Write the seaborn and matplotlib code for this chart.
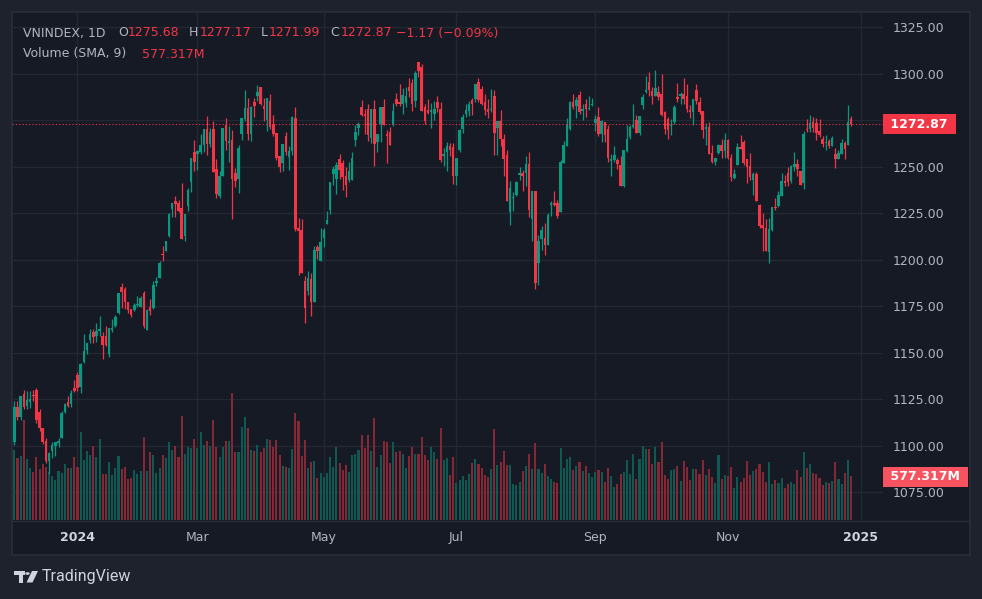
import matplotlib
matplotlib.use('Agg')
import numpy as np
import matplotlib.pyplot as plt
import matplotlib.transforms as mtransforms
from matplotlib.patches import Rectangle, Circle, Polygon
import seaborn as sns

# Daily VNINDEX candles, Dec 2023 - Dec 2024
opens = [
    1101.9, 1120.9, 1115.4, 1127.7, 1121.2, 1123.5, 1127.5, 1130.2, 1118.0, 1109.3,
    1102.3, 1091.6, 1097.0, 1100.0, 1101.7, 1104.1, 1118.4, 1123.4, 1122.7, 1131.3,
    1137.8, 1131.7, 1145.0, 1151.2, 1156.7, 1161.3, 1158.8, 1161.8, 1159.1, 1158.8,
    1149.5, 1162.3, 1164.2, 1171.2, 1185.5, 1184.1, 1177.5, 1173.4, 1172.8, 1175.4,
    1174.8, 1181.9, 1162.4, 1174.3, 1173.9, 1187.5, 1190.4, 1203.2, 1204.8, 1212.9,
    1227.5, 1231.3, 1230.7, 1227.9, 1212.9, 1228.8, 1241.7, 1257.6, 1256.7, 1258.1,
    1261.5, 1270.2, 1262.1, 1270.2, 1248.6, 1234.0, 1245.0, 1272.3, 1262.6, 1264.4,
    1246.4, 1243.2, 1267.5, 1275.6, 1281.5, 1267.5, 1284.7, 1288.0, 1292.7, 1282.8,
    1275.0, 1285.5, 1272.9, 1268.0, 1255.8, 1252.2, 1266.2, 1255.2, 1258.5, 1276.4,
    1217.2, 1215.7, 1188.6, 1183.2, 1189.7, 1177.1, 1206.7, 1199.1, 1211.4, 1219.0,
    1226.5, 1246.0, 1243.3, 1254.0, 1252.2, 1245.0, 1242.8, 1242.8, 1264.4, 1270.6,
    1281.8, 1278.5, 1280.9, 1265.5, 1281.2, 1263.0, 1272.7, 1281.8, 1267.7, 1268.6,
    1272.2, 1286.1, 1284.8, 1283.9, 1284.3, 1293.0, 1295.1, 1285.2, 1306.0, 1303.4,
    1282.1, 1280.3, 1279.3, 1278.5, 1284.8, 1281.2, 1255.9, 1258.1, 1261.0, 1260.5,
    1245.1, 1258.7, 1270.0, 1278.5, 1279.8, 1285.9, 1286.3, 1295.7, 1291.5, 1284.8,
    1281.2, 1280.3, 1287.9, 1270.8, 1274.7, 1265.0, 1256.3, 1225.6, 1233.4, 1234.7,
    1245.5, 1246.4, 1246.4, 1251.4, 1221.7, 1236.8, 1198.3, 1210.9, 1211.7, 1207.8,
    1229.2, 1230.3, 1230.3, 1225.6, 1252.0, 1261.0, 1270.4, 1284.5, 1282.7, 1288.4,
    1279.8, 1283.9, 1280.9, 1283.0, 1273.6, 1276.7, 1267.7, 1274.0, 1270.4, 1253.1,
    1253.3, 1253.8, 1250.9, 1239.4, 1258.5, 1265.9, 1271.3, 1275.3, 1268.2, 1283.0,
    1289.9, 1295.3, 1290.6, 1288.1, 1289.9, 1288.8, 1279.1, 1275.8, 1271.9, 1274.0,
    1287.3, 1288.1, 1289.2, 1288.1, 1280.3, 1279.4, 1291.2, 1284.5, 1280.1, 1270.4,
    1271.3, 1257.4, 1252.5, 1257.2, 1261.5, 1258.4, 1264.2, 1254.8, 1244.1, 1250.7,
    1260.8, 1263.3, 1253.9, 1250.4, 1242.8, 1245.9, 1229.2, 1218.5, 1217.2, 1204.2,
    1216.0, 1228.5, 1228.9, 1234.2, 1242.3, 1246.4, 1242.3, 1250.0, 1251.3, 1247.7,
    1241.0, 1270.4, 1270.4, 1274.0, 1273.7, 1269.2, 1265.0, 1262.8, 1263.8, 1261.1,
    1256.6, 1253.9, 1256.6, 1262.9, 1261.5, 1275.68,
]
highs = [
    1124.1, 1124.0, 1127.0, 1129.9, 1129.5, 1129.5, 1130.0, 1131.2, 1120.0, 1109.7,
    1104.0, 1096.8, 1101.9, 1102.2, 1104.2, 1118.7, 1123.2, 1126.6, 1129.9, 1135.3,
    1139.6, 1144.3, 1160.2, 1155.0, 1162.7, 1162.7, 1166.0, 1169.6, 1161.4, 1164.2,
    1163.4, 1168.3, 1170.0, 1182.0, 1187.3, 1185.2, 1177.5, 1173.4, 1176.8, 1180.7,
    1180.7, 1183.0, 1173.6, 1178.6, 1188.4, 1190.8, 1199.1, 1207.5, 1210.2, 1225.3,
    1230.2, 1234.0, 1231.8, 1241.2, 1224.6, 1238.7, 1254.5, 1264.4, 1258.8, 1267.8,
    1270.2, 1277.2, 1270.5, 1274.3, 1254.0, 1247.7, 1270.7, 1275.9, 1271.6, 1269.8,
    1249.5, 1261.5, 1276.1, 1291.2, 1286.9, 1282.8, 1286.9, 1293.9, 1292.7, 1286.9,
    1286.9, 1289.0, 1277.9, 1268.0, 1255.8, 1262.4, 1268.4, 1261.2, 1277.4, 1281.8,
    1222.2, 1221.7, 1191.0, 1194.0, 1192.8, 1207.2, 1208.1, 1216.8, 1216.8, 1226.2,
    1241.7, 1250.5, 1252.3, 1256.9, 1253.6, 1249.6, 1252.5, 1258.0, 1272.2, 1274.2,
    1285.6, 1281.0, 1283.4, 1281.0, 1285.6, 1267.7, 1281.8, 1286.1, 1269.5, 1271.3,
    1284.3, 1289.4, 1294.2, 1292.1, 1293.0, 1297.5, 1296.9, 1301.6, 1306.0, 1305.2,
    1283.6, 1286.6, 1284.3, 1285.5, 1288.1, 1284.8, 1259.9, 1263.2, 1262.8, 1262.8,
    1254.7, 1270.4, 1278.5, 1283.4, 1285.2, 1287.0, 1294.2, 1297.8, 1293.5, 1288.8,
    1286.6, 1291.5, 1291.2, 1274.7, 1280.3, 1267.7, 1259.2, 1242.2, 1236.1, 1242.2,
    1249.6, 1248.4, 1255.6, 1257.8, 1236.8, 1236.8, 1213.5, 1218.0, 1219.9, 1224.9,
    1231.6, 1237.0, 1232.1, 1253.8, 1263.9, 1276.2, 1285.2, 1288.8, 1287.5, 1290.6,
    1283.4, 1286.3, 1288.1, 1287.0, 1277.6, 1282.1, 1274.9, 1274.0, 1272.2, 1256.9,
    1261.0, 1254.5, 1255.6, 1259.2, 1272.2, 1272.6, 1283.4, 1277.6, 1277.3, 1288.8,
    1298.9, 1300.7, 1293.0, 1302.0, 1293.5, 1299.6, 1279.8, 1276.7, 1275.8, 1283.0,
    1294.8, 1289.9, 1297.8, 1294.2, 1283.0, 1286.3, 1294.2, 1287.5, 1280.1, 1273.6,
    1274.0, 1261.7, 1254.8, 1262.0, 1264.7, 1267.9, 1264.7, 1256.6, 1248.9, 1262.5,
    1266.8, 1264.3, 1254.3, 1257.2, 1247.1, 1247.1, 1229.8, 1225.3, 1221.7, 1222.6,
    1228.5, 1233.3, 1236.9, 1246.8, 1245.3, 1250.0, 1250.7, 1257.9, 1253.9, 1247.7,
    1269.2, 1275.8, 1277.6, 1276.9, 1276.3, 1275.4, 1266.5, 1266.8, 1265.0, 1266.5,
    1260.2, 1259.0, 1265.0, 1263.8, 1283.0, 1277.17,
]
lows = [
    1100.5, 1113.6, 1114.0, 1120.0, 1119.5, 1120.5, 1124.0, 1112.2, 1107.9, 1101.0,
    1091.0, 1084.8, 1093.4, 1094.5, 1099.2, 1104.0, 1117.4, 1120.9, 1120.9, 1128.7,
    1129.5, 1128.4, 1144.6, 1149.4, 1155.1, 1155.1, 1155.9, 1158.8, 1146.8, 1153.8,
    1147.8, 1160.9, 1163.8, 1171.0, 1174.1, 1173.6, 1171.4, 1169.2, 1172.3, 1174.7,
    1174.3, 1163.5, 1162.4, 1170.3, 1173.6, 1186.1, 1190.1, 1199.1, 1204.5, 1212.4,
    1222.8, 1222.8, 1225.7, 1211.3, 1210.2, 1226.4, 1236.3, 1247.7, 1248.0, 1256.7,
    1258.1, 1256.3, 1260.6, 1246.9, 1233.3, 1232.9, 1245.0, 1259.0, 1252.5, 1221.7,
    1239.0, 1235.6, 1264.2, 1274.7, 1264.2, 1263.9, 1276.8, 1285.5, 1283.3, 1274.7,
    1268.9, 1270.2, 1266.6, 1253.4, 1247.1, 1247.7, 1256.3, 1248.0, 1256.3, 1215.6,
    1191.9, 1192.6, 1166.0, 1181.0, 1169.9, 1177.1, 1200.5, 1199.1, 1206.7, 1219.0,
    1224.7, 1240.3, 1235.2, 1243.5, 1237.7, 1233.8, 1241.7, 1242.8, 1261.2, 1267.1,
    1277.1, 1267.7, 1263.7, 1262.6, 1250.5, 1257.6, 1263.4, 1272.2, 1252.2, 1261.4,
    1271.7, 1282.5, 1282.5, 1278.5, 1282.1, 1287.5, 1280.0, 1282.1, 1298.0, 1280.0,
    1273.1, 1278.5, 1270.9, 1275.0, 1279.4, 1252.7, 1250.2, 1247.8, 1255.6, 1240.6,
    1240.1, 1258.1, 1268.2, 1276.7, 1277.3, 1278.0, 1284.8, 1284.8, 1283.0, 1277.6,
    1276.2, 1279.4, 1256.3, 1256.0, 1261.0, 1245.1, 1231.6, 1218.4, 1226.2, 1234.3,
    1243.0, 1237.0, 1239.7, 1223.1, 1209.9, 1184.5, 1186.5, 1205.1, 1202.7, 1207.8,
    1223.5, 1228.9, 1222.2, 1225.6, 1252.0, 1261.0, 1269.5, 1281.2, 1276.2, 1278.5,
    1274.9, 1276.7, 1280.3, 1282.7, 1269.0, 1266.4, 1263.4, 1263.5, 1252.7, 1244.9,
    1252.7, 1248.7, 1239.4, 1238.8, 1257.8, 1265.0, 1270.8, 1268.2, 1266.8, 1281.2,
    1289.4, 1288.1, 1283.9, 1288.1, 1285.7, 1277.3, 1267.7, 1265.0, 1267.1, 1273.1,
    1284.8, 1283.9, 1283.9, 1279.4, 1276.2, 1272.2, 1283.9, 1278.5, 1265.3, 1261.5,
    1256.9, 1252.0, 1250.7, 1256.6, 1254.8, 1254.8, 1254.3, 1242.3, 1243.5, 1250.7,
    1259.3, 1250.7, 1241.0, 1242.8, 1234.6, 1231.5, 1217.2, 1204.7, 1204.7, 1198.4,
    1215.4, 1226.7, 1228.5, 1234.2, 1239.6, 1239.6, 1241.4, 1247.7, 1245.0, 1240.0,
    1238.2, 1268.6, 1268.6, 1268.6, 1264.3, 1266.1, 1260.8, 1259.0, 1260.2, 1261.1,
    1249.3, 1253.9, 1256.6, 1253.9, 1261.5, 1271.99,
]
closes = [
    1120.9, 1115.4, 1126.6, 1120.9, 1124.5, 1125.0, 1127.0, 1113.6, 1109.7, 1101.9,
    1091.6, 1096.3, 1100.5, 1102.0, 1102.8, 1117.6, 1122.3, 1121.4, 1128.6, 1129.3,
    1131.3, 1144.0, 1150.8, 1155.0, 1160.2, 1158.2, 1161.8, 1162.9, 1154.4, 1153.9,
    1163.4, 1163.4, 1169.2, 1181.9, 1182.7, 1177.2, 1172.8, 1170.3, 1175.7, 1176.1,
    1179.3, 1164.2, 1173.2, 1172.5, 1186.2, 1188.6, 1198.3, 1202.3, 1209.9, 1224.6,
    1230.2, 1230.0, 1226.4, 1211.3, 1224.3, 1237.2, 1254.5, 1252.5, 1258.5, 1261.5,
    1270.2, 1262.4, 1268.5, 1247.1, 1235.4, 1245.0, 1270.7, 1263.9, 1263.9, 1243.2,
    1242.3, 1259.9, 1276.1, 1281.5, 1267.5, 1282.2, 1282.6, 1290.0, 1283.7, 1281.1,
    1286.9, 1271.1, 1267.5, 1254.9, 1249.8, 1262.4, 1258.1, 1258.5, 1276.5, 1216.4,
    1215.3, 1192.6, 1174.2, 1190.0, 1177.1, 1205.4, 1204.5, 1209.6, 1216.2, 1221.1,
    1241.7, 1248.7, 1250.9, 1248.2, 1244.6, 1239.9, 1247.5, 1254.7, 1268.6, 1273.1,
    1277.6, 1277.4, 1266.8, 1281.0, 1262.3, 1267.7, 1281.8, 1272.2, 1266.2, 1261.4,
    1280.0, 1283.6, 1283.9, 1288.6, 1287.9, 1290.8, 1283.9, 1300.5, 1301.6, 1280.0,
    1274.4, 1278.9, 1280.3, 1281.2, 1281.6, 1253.8, 1256.8, 1261.0, 1258.7, 1245.1,
    1254.7, 1269.9, 1276.7, 1280.3, 1283.4, 1283.4, 1294.2, 1285.7, 1283.4, 1280.7,
    1279.4, 1281.2, 1268.2, 1274.7, 1264.6, 1254.2, 1231.6, 1238.3, 1233.9, 1241.9,
    1246.6, 1244.8, 1251.4, 1226.7, 1236.8, 1187.7, 1210.3, 1215.7, 1207.8, 1223.8,
    1230.3, 1229.2, 1223.5, 1252.7, 1261.7, 1272.6, 1284.5, 1282.1, 1285.6, 1279.4,
    1280.9, 1281.2, 1281.6, 1283.9, 1275.8, 1267.7, 1274.4, 1267.2, 1254.9, 1254.2,
    1256.3, 1251.4, 1239.4, 1259.2, 1265.0, 1271.3, 1272.2, 1268.2, 1277.3, 1287.5,
    1291.2, 1291.2, 1288.1, 1292.4, 1287.5, 1278.0, 1270.4, 1269.5, 1272.6, 1282.1,
    1286.6, 1288.8, 1286.3, 1280.9, 1279.1, 1286.3, 1285.2, 1279.4, 1269.5, 1271.3,
    1256.9, 1252.7, 1254.5, 1261.5, 1258.4, 1264.2, 1254.8, 1244.6, 1245.9, 1260.8,
    1259.3, 1251.8, 1250.0, 1244.6, 1245.9, 1231.5, 1218.1, 1217.2, 1204.7, 1216.7,
    1228.5, 1227.8, 1234.6, 1242.3, 1241.4, 1241.8, 1250.4, 1251.3, 1248.9, 1240.0,
    1267.4, 1269.7, 1273.7, 1271.0, 1267.9, 1266.8, 1262.0, 1263.3, 1261.1, 1265.6,
    1253.9, 1257.2, 1262.5, 1259.7, 1274.0, 1272.87,
]
# volume in millions of shares
volumes = [
    940, 831, 858, 1340, 813, 697, 643, 840, 688, 750,
    706, 643, 590, 536, 652, 625, 750, 697, 697, 840,
    715, 1179, 804, 920, 867, 992, 849, 1081, 616, 616,
    777, 599, 697, 858, 688, 706, 545, 563, 670, 616,
    661, 1108, 661, 916, 871, 634, 692, 871, 826, 1045,
    938, 996, 844, 1398, 884, 983, 960, 1085, 965, 1179,
    1005, 1059, 992, 1340, 978, 844, 978, 1059, 1059, 1702,
    911, 911, 1246, 1385, 1233, 938, 925, 1005, 911, 965,
    1085, 1072, 978, 1072, 871, 724, 710, 697, 951, 1438,
    1327, 858, 1072, 692, 782, 791, 558, 625, 576, 625,
    844, 710, 978, 764, 670, 737, 643, 871, 884, 934,
    1139, 965, 1139, 925, 1367, 710, 871, 1059, 1045, 764,
    1045, 911, 925, 884, 692, 858, 978, 884, 884, 1112,
    871, 804, 978, 911, 817, 1228, 804, 831, 603, 844,
    491, 536, 590, 536, 616, 764, 817, 750, 697, 603,
    576, 683, 1220, 737, 777, 925, 737, 737, 482, 469,
    509, 657, 724, 884, 683, 1032, 683, 630, 750, 590,
    549, 509, 496, 965, 697, 817, 844, 670, 724, 777,
    657, 724, 630, 576, 643, 670, 643, 509, 697, 590,
    442, 482, 616, 643, 804, 616, 884, 549, 817, 992,
    951, 951, 750, 978, 777, 1045, 603, 549, 670, 683,
    724, 523, 791, 710, 536, 683, 683, 616, 804, 603,
    683, 576, 500, 876, 554, 603, 594, 710, 433, 576,
    514, 567, 791, 603, 657, 688, 750, 643, 514, 777,
    482, 536, 500, 563, 433, 482, 509, 482, 670, 581,
    911, 697, 750, 634, 616, 567, 469, 509, 500, 523,
    777, 554, 482, 634, 804, 590,
]
vol_sma_last = 577.317

price_ticks = [1075, 1100, 1125, 1150, 1175, 1200, 1225, 1250, 1275, 1300, 1325]
month_pos = [20, 58, 98, 140, 184, 226, 268]
month_labels = ['2024', 'Mar', 'May', 'Jul', 'Sep', 'Nov', '2025']

OUTER = '#1e222d'
PANE = '#161a25'
BORDER = '#2a2e39'
GRID = '#242833'
TEXT = '#b2b5be'
UP = '#089981'
DOWN = '#f23645'
VOL_UP = '#0f5953'
VOL_DOWN = '#842835'

sns.set_theme(style='dark', rc={'figure.facecolor': OUTER, 'axes.facecolor': PANE,
                                'savefig.facecolor': OUTER})
plt.rcParams['font.family'] = ['DejaVu Sans']

W, H = 982, 599
fig = plt.figure(figsize=(W / 100, H / 100), dpi=100)


def fx(px):
    return px / W


def fy(py):
    return 1 - py / H


# chart frame
fig.add_artist(Rectangle((fx(12), fy(555)), (970 - 12) / W, (555 - 12) / H,
                         transform=fig.transFigure, fc=PANE, ec=BORDER, lw=1.2, zorder=-10))
fig.add_artist(plt.Line2D([fx(12), fx(970)], [fy(520.5), fy(520.5)],
                          transform=fig.transFigure, color=BORDER, lw=1))

ax_vol = fig.add_axes([fx(12), fy(520), (883 - 12) / W, (520 - 12) / H])
ax_vol.set_facecolor('none')
ax = ax_vol.twinx()

idx = np.arange(len(closes))
o = np.array(opens)
c = np.array(closes)
direction = np.where(c >= o, 'up', 'down')

sns.barplot(x=idx, y=volumes, hue=direction, palette={'up': VOL_UP, 'down': VOL_DOWN},
            native_scale=True, dodge=False, width=0.66, saturation=1, errorbar=None,
            legend=False, ax=ax_vol, zorder=2, linewidth=0, edgecolor='none')
ax_vol.set_ylim(0, 6807)
ax_vol.set_xlabel('')
ax_vol.set_ylabel('')
ax_vol.set_yticks([])

# candles
colors = np.where(c >= o, UP, DOWN)
ax.vlines(idx, lows, highs, colors=colors, lw=0.9, zorder=3)
body = np.maximum(np.abs(c - o), 0.4)
ax.bar(idx, body, bottom=np.minimum(o, c), width=0.8, color=colors, lw=0, zorder=4)
ax.set_ylim(1060.1, 1333.1)
ax.set_xlim(-0.73, 275.1)
ax_vol.set_xlim(-0.73, 275.1)

# grid behind everything
ytrans = mtransforms.blended_transform_factory(ax_vol.transAxes, ax.transData)
ax_vol.hlines(price_ticks, 0, 1, transform=ytrans, color=GRID, lw=1, zorder=0.5)
xtrans = mtransforms.blended_transform_factory(ax_vol.transData, ax_vol.transAxes)
ax_vol.vlines(month_pos, 0, 1, transform=xtrans, color=GRID, lw=1, zorder=0.5)
ax_vol.grid(False)
ax.grid(False)

for a in (ax, ax_vol):
    for s in a.spines.values():
        s.set_visible(False)

# the last-price badge takes the place of the 1275 label
last = closes[-1]
ax.set_yticks(price_ticks)
ax.set_yticklabels(['' if abs(t - last) < 8 else f'{t:.2f}' for t in price_ticks])
ax.tick_params(axis='y', length=0, pad=7, labelsize=9, colors=TEXT)
ax.set_ylabel('')

ax_vol.set_xticks(month_pos)
ax_vol.set_xticklabels(month_labels)
ax_vol.tick_params(axis='x', length=0, pad=8, labelsize=9, colors=TEXT)
for lab in ax_vol.get_xticklabels():
    if lab.get_text() in ('2024', '2025'):
        lab.set_fontweight('bold')
        lab.set_color('#d1d4dc')

# last price line and labels
ax.axhline(last, color=DOWN, lw=0.8, ls=(0, (1, 2)), zorder=5)
ptrans = mtransforms.blended_transform_factory(ax.transAxes, ax.transData)
ax.text(1.004, last, f' {last:.2f} ', transform=ptrans, ha='left', va='center',
        color='white', fontsize=9, fontweight='bold', clip_on=False,
        bbox=dict(boxstyle='square,pad=0.28', fc=DOWN, ec='none'))
vtrans = mtransforms.blended_transform_factory(ax_vol.transAxes, ax_vol.transData)
ax_vol.text(1.004, vol_sma_last, f' {vol_sma_last:.3f}M ', transform=vtrans,
            ha='left', va='center', color='white', fontsize=9, fontweight='bold',
            clip_on=False, zorder=10,
            bbox=dict(boxstyle='square,pad=0.28', fc='#f7525f', ec='none'))

# legend header
header = [
    (23, 'VNINDEX, 1D', TEXT), (118, 'O', TEXT), (128, f'{opens[-1]:.2f}', DOWN),
    (189, 'H', TEXT), (200, f'{highs[-1]:.2f}', DOWN), (261, 'L', TEXT),
    (269, f'{lows[-1]:.2f}', DOWN), (330, 'C', TEXT), (341, f'{closes[-1]:.2f}', DOWN),
    (396, '\u22121.17 (\u22120.09%)', DOWN),
]
for x, s, col in header:
    fig.text(fx(x), fy(33), s, color=col, fontsize=9, ha='left', va='center')
fig.text(fx(23), fy(54), 'Volume (SMA, 9)', color=TEXT, fontsize=9, ha='left', va='center')
fig.text(fx(142), fy(54), f'{vol_sma_last:.3f}M', color=DOWN, fontsize=9,
         ha='left', va='center')

# TradingView logo
LOGO = '#d1d4dc'
fig.add_artist(Rectangle((fx(13.5), fy(575)), 11.5 / W, 4 / H, transform=fig.transFigure,
                         fc=LOGO, ec='none'))
fig.add_artist(Rectangle((fx(18.5), fy(582.5)), 4.2 / W, 11 / H, transform=fig.transFigure,
                         fc=LOGO, ec='none'))
fig.add_artist(Circle((fx(27.5), fy(573.5)), 2.2 / W, transform=fig.transFigure,
                      fc=LOGO, ec='none'))
fig.add_artist(Polygon([(fx(32), fy(571)), (fx(38), fy(571)), (fx(32.5), fy(582.5)),
                        (fx(26.5), fy(582.5))], closed=True, transform=fig.transFigure,
                       fc=LOGO, ec='none'))
fig.text(fx(42), fy(577), 'TradingView', color=LOGO, fontsize=11.5, ha='left',
         va='center', family=['Roboto', 'DejaVu Sans'])

fig.savefig('out.png', dpi=100)
